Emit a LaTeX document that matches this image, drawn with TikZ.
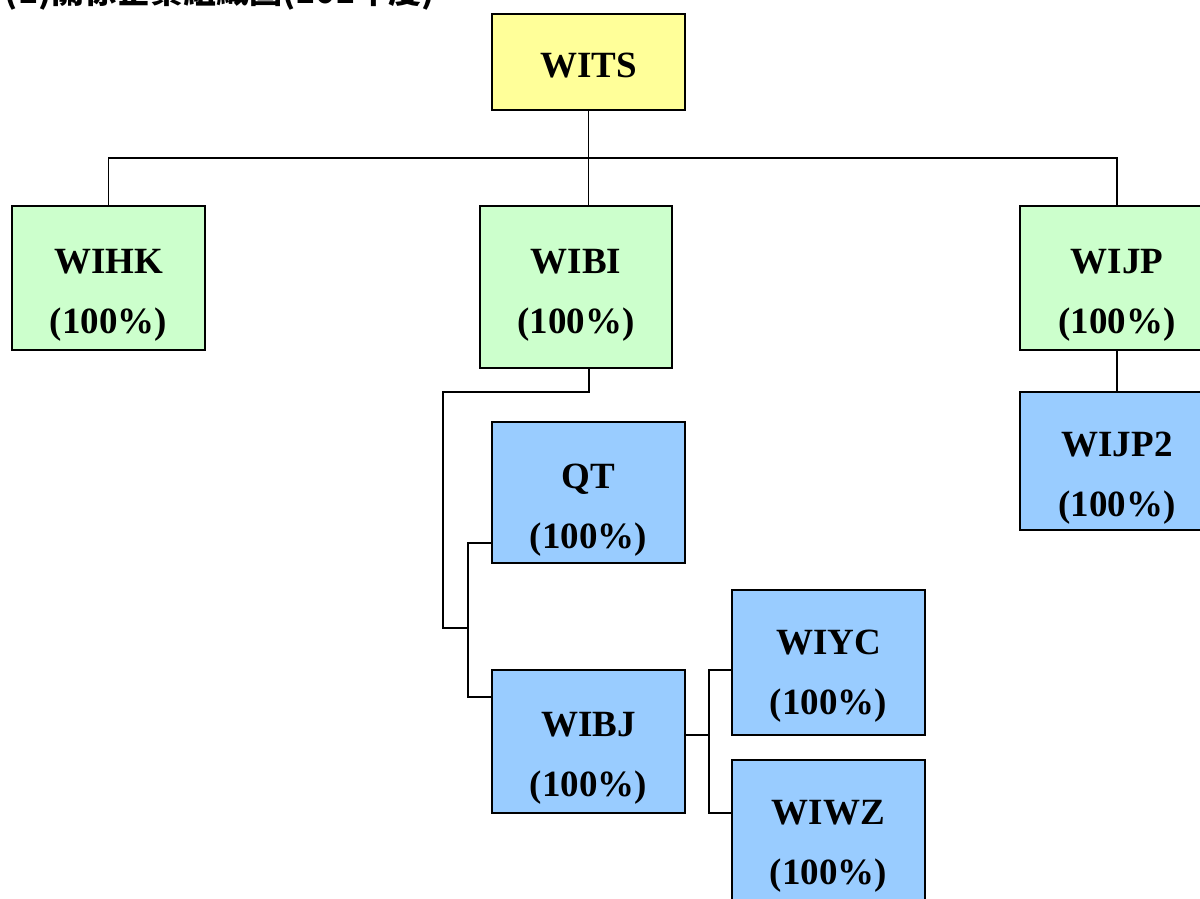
\documentclass[tikz,border=0pt]{standalone}
\usepackage{fontspec}
\setmainfont{Liberation Serif}
\newfontfamily\cjk{Noto Sans CJK TC}
\usepackage{tikz}

\definecolor{parentyellow}{HTML}{FFFF99}
\definecolor{subgreen}{HTML}{CCFFCC}
\definecolor{subblue}{HTML}{99CCFF}

\begin{document}
\begin{tikzpicture}[x=1pt, y=-1pt, line width=1.8pt,
	firm/.style={draw=black, minimum width=193pt, inner sep=0pt},
	firmtxt/.style={align=center, inner sep=0pt, font=\bfseries\fontsize{37pt}{60pt}\selectfont}]
	
	\useasboundingbox (0,0) rectangle (1200,899);
	\clip (0,0) rectangle (1200,899);
	
	\node[anchor=base west, inner sep=0pt, font=\cjk\bfseries\fontsize{33pt}{38pt}\selectfont] (title) at (4,4) {(1)關係企業組織圖(101年度)};
	
	% boxes
	\node[firm, fill=parentyellow, minimum height=96pt] (wits) at (588.5, 62) {};
	\node[firm, fill=subgreen, minimum height=144pt] (wihk) at (108.5, 278) {};
	\node[firm, fill=subgreen, minimum width=192pt, minimum height=162pt] (wibi) at (576, 287) {};
	\node[firm, fill=subgreen, minimum width=194pt, minimum height=144pt] (wijp) at (1117, 278) {};
	\node[firm, fill=subblue, minimum width=194pt, minimum height=138pt] (wijp2) at (1117, 461) {};
	\node[firm, fill=subblue, minimum height=141pt] (qt) at (588.5, 492.5) {};
	\node[firm, fill=subblue, minimum height=143pt] (wibj) at (588.5, 741.5) {};
	\node[firm, fill=subblue, minimum height=145pt] (wiyc) at (828.5, 662.5) {};
	\node[firm, fill=subblue, minimum height=145pt] (wiwz) at (828.5, 832.5) {};
	
	% texts
	\node[firmtxt] (witst) at (588.5, 66) {WITS};
	\node[firmtxt] (wihkt) at (108.5, 295) {WIHK\\(100\%)};
	\node[firmtxt] (wibit) at (576, 295) {WIBI\\(100\%)};
	\node[firmtxt] (wijpt) at (1117, 295) {WIJP\\(100\%)};
	\node[firmtxt] (wijp2t) at (1117, 478) {WIJP2\\(100\%)};
	\node[firmtxt] (qtt) at (588.5, 510) {QT\\(100\%)};
	\node[firmtxt] (wibjt) at (588.5, 758) {WIBJ\\(100\%)};
	\node[firmtxt] (wiyct) at (828.5, 676) {WIYC\\(100\%)};
	\node[firmtxt] (wiwzt) at (828.5, 846) {WIWZ\\(100\%)};
	
	% connectors
	\coordinate (bus) at (588.5, 158);
	\coordinate (j1) at (443, 392);
	\coordinate (j2) at (468, 628);
	\coordinate (j3) at (709, 735);
	
	\draw (wits.south) -- (bus);
	\draw (bus) -| (wihk.north);
	\draw (bus) -| (wijp.north);
	\draw (bus) -- (bus |- wibi.north);
	\draw (wijp.south) -- (wijp2.north);
	
	\draw ([xshift=13pt]wibi.south) |- (j1) |- (j2);
	\draw ([yshift=-50.5pt]qt.west) -| (j2) |- ([yshift=44.5pt]wibj.west);
	
	\draw ([yshift=6.5pt]wibj.east) -- (j3);
	\draw ([yshift=-7.5pt]wiyc.west) -| (j3) |- ([yshift=19.5pt]wiwz.west);
	
\end{tikzpicture}
\end{document}
